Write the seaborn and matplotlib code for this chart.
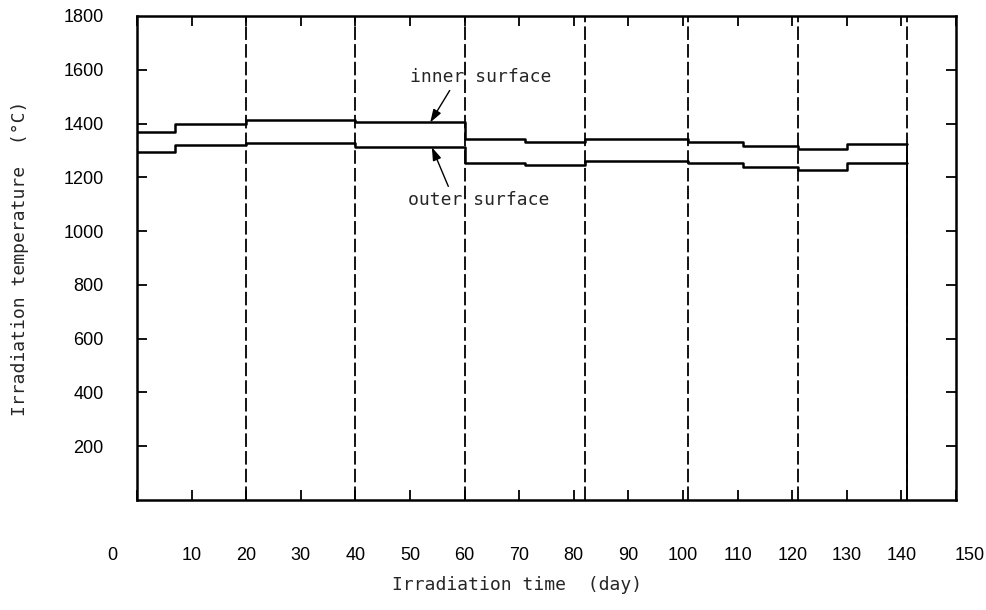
import matplotlib
matplotlib.use("Agg")
import matplotlib.pyplot as plt
import numpy as np
import pandas as pd
import seaborn as sns
from matplotlib.transforms import ScaledTranslation

# Irradiation history: start day of each constant-temperature step
step_days = [0, 7, 20, 40, 60, 71, 82, 101, 111, 121, 130]
end_day = 141
inner_temp = [1370, 1400, 1415, 1404, 1343, 1331, 1343, 1330, 1315, 1306, 1325]
outer_temp = [1296, 1319, 1329, 1312, 1255, 1245, 1262, 1253, 1239, 1229, 1253]

# Reactor cycle boundaries (days)
cycle_ends = [20, 40, 60, 82, 101, 121, 141]

x_ticks = list(range(0, 151, 10))
y_labels = list(range(200, 1801, 200))

sns.set_style("white")
plt.rcParams["font.family"] = ["Liberation Sans", "DejaVu Sans"]
mono = ["DejaVu Sans Mono"]

rows = []
for name, temps in (("inner surface", inner_temp), ("outer surface", outer_temp)):
    days = step_days + [end_day]
    vals = temps + [temps[-1]]
    for d, t in zip(days, vals):
        rows.append({"day": d, "temp": t, "surface": name})
df = pd.DataFrame(rows)

fig = plt.figure(figsize=(9.87, 6.10), dpi=100)
ax = fig.add_axes([137 / 987, 1 - 500 / 610, 819 / 987, 484 / 610])

sns.lineplot(data=df, x="day", y="temp", hue="surface", palette=["black", "black"],
             drawstyle="steps-post", estimator=None, sort=False, legend=False,
             linewidth=1.8, ax=ax)

ax.vlines(cycle_ends, 0, 1800, colors="black", linestyles=(0, (7.5, 2.3)), linewidth=1.3)
ax.vlines(end_day, 0, inner_temp[-1], colors="black", linewidth=1.4)

ax.set_xlim(0, 150)
ax.set_ylim(0, 1800)

ax.set_xticks(x_ticks)
ax.set_xticklabels([str(v) for v in x_ticks])
ax.set_yticks(y_labels)
ax.set_yticklabels([str(v) for v in y_labels])

ax.tick_params(axis="both", which="both", direction="in", length=7, width=1.3,
               colors="black", labelsize=13)
ax.tick_params(axis="x", top=True, bottom=True, pad=34)
ax.tick_params(axis="y", left=True, right=True, pad=24)

# hide the tick mark at the top border (1800)
for tk in ax.yaxis.get_major_ticks():
    if tk.get_loc() >= 1800:
        tk.tick1line.set_visible(False)
        tk.tick2line.set_visible(False)

# origin label sits left of the corner, last label right of it
labels = ax.get_xticklabels()
labels[0].set_transform(labels[0].get_transform() + ScaledTranslation(-0.25, 0, fig.dpi_scale_trans))
labels[-1].set_transform(labels[-1].get_transform() + ScaledTranslation(0.14, 0, fig.dpi_scale_trans))

for s in ax.spines.values():
    s.set_visible(True)
    s.set_linewidth(1.8)
    s.set_color("black")

ax.set_xlabel("Irradiation time  (day)", family=mono, fontsize=13)
ax.xaxis.set_label_coords((517 - 137) / 819, -0.158)
ax.set_ylabel("Irradiation temperature  (\u00b0C)", family=mono, fontsize=13)
ax.yaxis.set_label_coords(-0.132, 0.5)

arrow = dict(arrowstyle="-|>,head_length=0.6,head_width=0.2", color="black",
             linewidth=1.0, shrinkA=1, shrinkB=0)
ax.annotate("inner surface", xy=(53.7, inner_temp[3]), xytext=(50.0, 1573),
            ha="left", va="center", family=mono, fontsize=13,
            arrowprops=dict(arrow, relpos=(0.3, 0.0)))
ax.annotate("outer surface", xy=(54.0, outer_temp[3]), xytext=(49.6, 1116),
            ha="left", va="center", family=mono, fontsize=13,
            arrowprops=dict(arrow, relpos=(0.3, 1.0)))

fig.savefig("out.png", dpi=100, facecolor="white")
